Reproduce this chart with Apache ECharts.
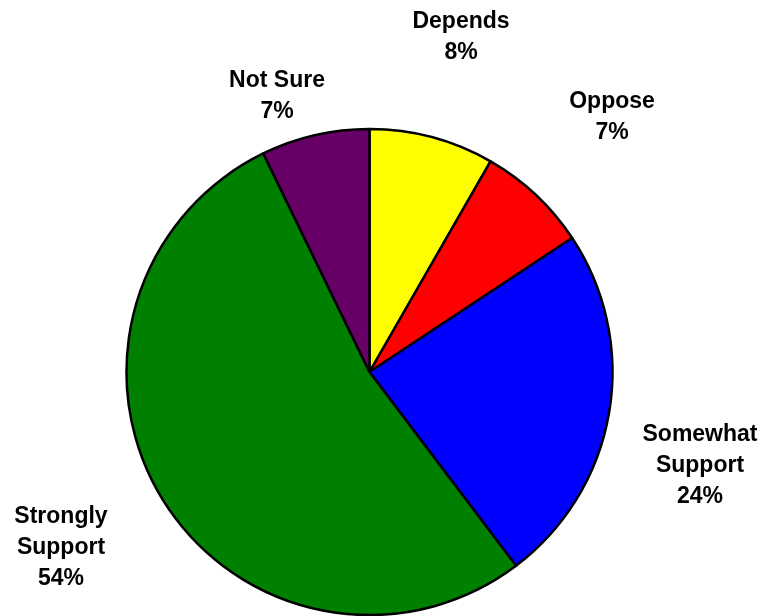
<!DOCTYPE html>
<html>
<head>
<meta charset="utf-8">
<script src="https://cdn.jsdelivr.net/npm/echarts@6/dist/echarts.min.js"></script>
<style>
html,body{margin:0;padding:0;background:#fff;}
#chart{width:763px;height:616px;}
</style>
</head>
<body>
<div id="chart"></div>
<script>
const categories = ['Depends', 'Oppose', 'Somewhat\nSupport', 'Strongly\nSupport', 'Not Sure'];
const values = [8.3, 7.4, 24.0, 53.1, 7.2];
const percentLabels = ['8%', '7%', '24%', '54%', '7%'];
const colors = ['#FFFF00', '#FF0000', '#0000FF', '#008000', '#660066'];

// label anchor points (centres of the text blocks)
const labelAnchors = [[461, 37], [612, 117], [700, 466], [61, 548], [277, 96]];

const chart = echarts.init(document.getElementById('chart'));
chart.setOption({
  animation: false,
  backgroundColor: '#ffffff',
  series: [{
    type: 'pie',
    center: [369.5, 372],
    radius: [0, 243],
    startAngle: 90,
    clockwise: true,
    avoidLabelOverlap: false,
    data: categories.map((c, i) => ({
      name: c,
      value: values[i],
      itemStyle: { color: colors[i] }
    })),
    itemStyle: { borderColor: '#000', borderWidth: 2.5 },
    label: {
      show: true,
      position: 'outside',
      formatter: p => p.name + '\n' + percentLabels[p.dataIndex],
      fontFamily: '"Liberation Sans", Arial, sans-serif',
      fontWeight: 'bold',
      fontSize: 23,
      lineHeight: 31,
      color: '#000',
      align: 'center'
    },
    labelLine: { show: false },
    labelLayout: p => ({
      x: labelAnchors[p.dataIndex][0],
      y: labelAnchors[p.dataIndex][1],
      align: 'center',
      verticalAlign: 'middle'
    }),
    emphasis: { disabled: true }
  }]
});
</script>
</body>
</html>
